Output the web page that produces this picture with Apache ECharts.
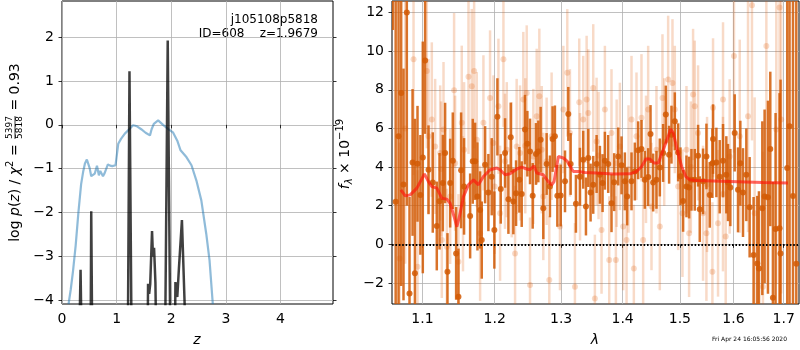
<!DOCTYPE html>
<html>
<head>
<meta charset="utf-8">
<title>redshift fit</title>
<script src="https://cdn.jsdelivr.net/npm/echarts@6.0.0/dist/echarts.min.js"></script>
<style>
  html, body { margin: 0; padding: 0; background: #fff; }
  #chart { width: 800px; height: 350px; }
</style>
</head>
<body>
<div id="chart"></div>
<script>
// ---- left panel: log p(z) and chi2 curve
var pzZ = [0.12,0.16,0.20,0.25,0.30,0.35,0.39,0.42,0.455,0.475,0.505,0.535,0.57,0.60,0.64,0.675,0.70,0.72,0.75,0.78,
  0.80,0.84,0.88,0.92,0.98,1.0,1.03,1.08,1.15,1.24,1.30,1.34,1.38,1.45,1.53,1.61,1.64,1.68,1.76,1.85,
  1.94,2.03,2.11,2.17,2.28,2.37,2.46,2.55,2.64,2.70,2.76];
var pzLog = [-4.08,-3.75,-3.35,-2.75,-2.0,-1.35,-1.05,-0.88,-0.79,-0.78,-0.98,-1.17,-1.15,-1.11,-0.93,-1.15,-1.05,-1.04,-1.17,-1.1,
  -1.12,-0.9,-0.93,-0.94,-0.92,-0.9,-0.43,-0.32,-0.2,-0.09,-0.01,-0.02,-0.04,-0.1,-0.18,-0.24,-0.1,0.02,0.10,0.0,
  -0.09,-0.17,-0.36,-0.58,-0.74,-0.92,-1.27,-1.72,-2.48,-3.08,-4.08];

var chiZ = [0.30,0.34,0.355,0.37, 0.52,0.535,0.545,0.56, 1.20,1.235,1.25,1.28,
  1.56,1.575,1.595,1.615,1.648,1.665,1.685,1.71,1.735, 1.88,1.935,1.955,1.99,
  2.06,2.076,2.11,2.14,2.17,2.195,2.215,2.245,2.26];
var chiVal = [-6,-3.3,-3.3,-6, -6,-1.97,-1.97,-6, -6,1.22,1.22,-6,
  -6,-3.62,-3.85,-3.62,-2.42,-3.0,-2.8,-3.6,-6, -6,1.92,1.92,-6,
  -6,-3.58,-3.92,-3.27,-3.24,-2.17,-2.14,-4.1,-6];

var zTicks = [0,1,2,3,4];
var pzTicks = [-4,-3,-2,-1,0,1,2];

// ---- right panel: spectrum [wavelength, flux, error]
var darkPoints = [
  [1.0614,14.0,2.9],[1.0650,2.2,12],[1.0687,5.6,10],[1.0721,7.84,10],[1.0751,3.1,6],[1.0794,12.0,10],
  [1.0829,-2.55,5],[1.0869,4.24,3.8],[1.0900,-1.5,8],[1.0934,4.17,3],[1.0972,2.56,3.1],[1.1004,4.5,6],
  [1.1035,9.52,3.8],[1.1080,3.86,2.3],[1.1137,3.2,2.6],[1.1191,0.95,2.3],[1.1228,2.23,2.5],[1.1273,3.17,2.5],
  [1.1304,4.73,2.6],[1.1336,-1.42,2.0],[1.1373,3.17,2.3],[1.1409,4.33,2.5],[1.1455,-0.47,2.4],[1.1487,-2.72,2.5],
  [1.1524,3.83,3.0],[1.1565,3.0,2.5],[1.1650,1.47,2.2],[1.1687,4.3,2.2],[1.1720,4.3,2.0],[1.1753,2.48,2.8],
  [1.1791,1.78,2.0],[1.1814,0.22,2.0],[1.1862,4.12,2.0],[1.1909,2.68,2.0],[1.1957,3.5,2.0],[1.1995,0.74,2.0],
  [1.2039,6.6,2.0],[1.2088,2.87,1.8],[1.2151,4.73,1.8],[1.2200,2.34,1.8],[1.2234,5.54,1.8],[1.2273,2.22,1.7],
  [1.2313,2.65,1.7],[1.2362,3.34,1.7],[1.2397,2.6,1.7],[1.2446,5.94,1.8],[1.2482,5.21,1.7],[1.2522,4.81,1.7],
  [1.2562,2.51,1.7],[1.2612,4.68,1.6],[1.2648,4.81,1.6],[1.2683,5.42,1.7],[1.2724,1.87,1.6],[1.2775,4.16,1.6],
  [1.2826,3.0,1.6],[1.2867,5.45,1.7],[1.2903,5.59,1.6],[1.2941,2.51,1.6],[1.2993,2.53,1.6],[1.3061,3.26,1.6],
  [1.3113,6.75,1.4],[1.3150,4.16,1.6],[1.3234,2.1,1.5],[1.3298,3.5,1.5],[1.3351,4.38,1.5],[1.3395,1.96,1.5],
  [1.3433,4.47,1.5],[1.3470,2.68,1.5],[1.3513,3.08,1.5],[1.3568,4.16,1.5],[1.3622,3.6,1.5],[1.3666,3.17,1.5],
  [1.3704,4.33,1.5],[1.3759,4.16,1.5],[1.3814,2.13,1.5],[1.3858,3.22,1.5],[1.3926,4.55,1.5],[1.3982,4.09,1.5],
  [1.4038,3.26,1.5],[1.4077,2.48,1.5],[1.4151,3.26,1.5],[1.4208,3.77,1.5],[1.4265,4.87,1.5],[1.4322,4.94,1.5],
  [1.4380,3.34,1.5],[1.4438,3.48,1.5],[1.4479,5.71,1.5],[1.4525,3.2,1.5],[1.4583,3.34,1.5],[1.4642,3.98,1.5],
  [1.4700,4.73,1.5],[1.4748,6.72,1.5],[1.4807,4.64,1.5],[1.4849,5.68,1.5],[1.4909,6.37,1.5],[1.4969,4.76,1.5],
  [1.5011,3.52,1.5],[1.5059,2.25,1.6],[1.5120,3.0,1.6],[1.5168,2.94,1.6],[1.5211,3.34,1.6],[1.5272,3.34,1.6],
  [1.5333,4.59,1.6],[1.5364,1.82,1.7],[1.5425,3.26,1.7],[1.5488,4.55,1.7],[1.5550,2.56,1.7],[1.5600,4.2,1.8],
  [1.5612,5.45,1.8],[1.5675,4.24,1.8],[1.5738,3.5,1.9],[1.5801,4.33,1.9],[1.5864,3.6,2.0],[1.5896,3.2,2.0],
  [1.5941,2.94,2.0],[1.6025,5.77,2.0],[1.6089,2.82,2.2],[1.6134,4.2,2.2],[1.6186,2.68,2.3],[1.6251,3.6,2.4],
  [1.6316,1.92,2.6],[1.6394,-0.55,3.0],[1.6467,-0.99,3.5],[1.6500,-1.25,4],[1.6567,1.87,4.5],[1.6613,2.48,4.5],
  [1.6680,2.44,5],[1.6727,4.94,4],[1.6780,-2.77,6],[1.6834,0.8,6],[1.6915,0.83,7],[1.6935,-0.47,9],
  [1.7072,3.95,12],[1.7120,6.11,12],[1.7191,2.5,13],[1.7260,-1.0,14]
];

var lightPoints = [
  [1.0700,-0.73,6],[1.0773,6.0,7],[1.0882,9.58,6],[1.0934,-1.16,5],[1.1057,8.97,4],[1.1080,5.6,4],
  [1.1124,6.46,4],[1.1169,5.07,3.5],[1.1237,4.73,3.5],[1.1250,3.9,3.5],[1.1259,0.22,3],[1.1282,5.94,3.5],
  [1.1327,-0.12,3],[1.1373,2.48,3.5],[1.1427,7.98,4],[1.1441,4.2,3.5],[1.1487,-0.9,3.5],[1.1533,6.29,4],
  [1.1550,2.1,3.5],[1.1565,4.9,3.5],[1.1627,8.68,4],[1.1673,8.19,4],[1.1706,8.97,4],[1.1743,5.42,3.5],
  [1.1791,0.57,3.5],[1.1838,6.29,3.5],[1.1933,7.58,3.5],[1.1981,5.25,3.5],[1.2000,3.0,3.5],[1.2054,7.15,3.5],
  [1.2078,1.61,3.5],[1.2127,9.58,3.5],[1.2150,4.3,3.5],[1.2176,4.9,3.5],[1.2249,3.86,3.5],[1.2298,-0.47,3.5],
  [1.2322,5.07,3.5],[1.2372,4.73,3.5],[1.2421,7.5,3.5],[1.2450,5.1,3.5],[1.2472,7.84,3.5],[1.2522,-2.11,3.5],
  [1.2572,4.55,3.5],[1.2623,6.63,3.5],[1.2663,7.67,3.5],[1.2700,4.9,3.3],[1.2724,2.48,3.3],[1.2775,4.3,3.3],
  [1.2816,-1.85,3.3],[1.2852,5.6,3.3],[1.2982,0.92,3.3],[1.3035,6.98,3.3],[1.3097,8.88,3.3],[1.3139,5.77,3.3],
  [1.3218,-2.2,3.3],[1.3287,7.36,3.3],[1.3300,3.5,3.3],[1.3351,6.46,3.3],[1.3406,7.5,3.3],[1.3433,6.8,3.3],
  [1.3513,8.1,3.3],[1.3540,-2.8,3.3],[1.3568,5.33,3.3],[1.3600,4.6,3.3],[1.3649,0.74,3.3],[1.3704,6.98,3.3],
  [1.3776,-0.81,3.3],[1.3814,5.77,3.3],[1.3887,-0.81,3.3],[1.3900,4.2,3.3],[1.3954,5.07,3.3],[1.4010,0.92,3.3],
  [1.4067,0.22,3.3],[1.4100,3.9,3.3],[1.4151,6.46,3.3],[1.4191,-1.25,3.3],[1.4236,5.6,3.3],[1.4322,6.55,3.3],
  [1.4351,0.22,3.3],[1.4400,4.4,3.3],[1.4438,6.98,3.3],[1.4496,1.96,3.3],[1.4583,4.9,3.3],[1.4642,0.92,3.3],
  [1.4689,7.58,3.3],[1.4720,5.3,3.3],[1.4790,8.54,3.3],[1.4867,8.36,3.3],[1.4909,6.98,3.3],[1.4969,3.0,3.3],
  [1.5047,1.61,3.3],[1.5120,4.9,3.3],[1.5168,0.57,3.3],[1.5200,4.0,3.4],[1.5241,7.76,3.4],[1.5272,7.15,3.4],
  [1.5333,5.77,3.5],[1.5425,1.61,3.5],[1.5488,0.57,3.5],[1.5500,3.1,3.5],[1.5600,-1.42,3.6],[1.5612,7.07,3.6],
  [1.5706,1.09,3.8],[1.5800,2.6,4],[1.5801,7.5,4],[1.5852,0.4,4],[1.5928,4.55,4],[1.6011,9.75,5],
  [1.6122,5.6,5],[1.6284,6.63,6],[1.6362,12.38,7],[1.6415,1.61,6],[1.6580,-2.2,7],[1.6648,10.27,8],
  [1.6849,5.94,8],[1.6915,12.26,9],[1.6949,6.46,9]
];

var modelWave = [1.0717,1.0774,1.0838,1.0926,1.1026,1.1079,1.1125,1.1192,1.1259,1.1328,1.1372,1.1427,1.1465,1.1500,
  1.1556,1.1626,1.1697,1.1767,1.1838,1.1934,1.2030,1.2078,1.2151,1.2224,1.2323,1.2397,1.2472,1.2522,1.2582,1.2624,
  1.2724,1.2801,1.2853,1.2890,1.2957,1.3035,1.3098,1.3192,1.3272,1.3379,1.3569,1.3842,1.4124,1.4239,1.4325,1.4400,
  1.4469,1.4539,1.4615,1.4703,1.4791,1.4834,1.4881,1.4952,1.5032,1.5109,1.5182,1.5305,1.5929,1.6580,1.7087];
var modelFlux = [2.82,2.51,2.56,2.91,3.65,3.25,2.99,2.91,2.39,2.34,2.13,1.43,0.91,1.43,
  2.47,3.08,3.34,3.08,3.51,3.86,3.95,3.86,3.6,3.65,3.9,4.0,3.9,3.86,4.07,3.69,
  3.6,3.25,3.08,3.25,4.55,4.47,4.29,3.77,3.77,3.72,3.69,3.64,3.65,3.77,4.03,4.42,
  4.42,4.21,4.21,4.9,5.59,5.97,5.77,4.9,4.03,3.51,3.34,3.3,3.25,3.2,3.17];

var lamTicks = [1.1,1.2,1.3,1.4,1.5,1.6,1.7];
var fluxTicks = [-2,0,2,4,6,8,10,12];

var FONT = 'DejaVu Sans';

function minus(v){ return String(v).replace('-', '\u2212'); }

function axisStyle(ticks, fmt){
  return {
    axisLine: { show: false },
    axisTick: { show: true, inside: false, length: 3.5, customValues: ticks, lineStyle: { color: '#000', width: 0.8 } },
    axisLabel: { show: true, customValues: ticks, color: '#000', fontFamily: FONT, fontSize: 14, margin: 8,
                 formatter: fmt || minus },
    splitLine: { show: true, lineStyle: { color: '#b0b0b0', width: 0.8 } }
  };
}

// error bar + dot, clipped to the plot box
function errRender(color, r, w){
  return function(params, api){
    var x = api.value(0), y = api.value(1), e = api.value(2);
    var top = api.coord([x, y + e]);
    var bot = api.coord([x, y - e]);
    var c = api.coord([x, y]);
    var cs = params.coordSys;
    var bar = echarts.graphic.clipRectByRect(
      { x: top[0] - w / 2, y: top[1], width: w, height: bot[1] - top[1] },
      { x: cs.x, y: cs.y, width: cs.width, height: cs.height });
    var kids = [];
    if (bar) kids.push({ type: 'rect', shape: bar, style: { fill: color } });
    if (c[1] >= cs.y && c[1] <= cs.y + cs.height) {
      kids.push({ type: 'circle', shape: { cx: c[0], cy: c[1], r: r }, style: { fill: color } });
    }
    return { type: 'group', children: kids };
  };
}

// rotated (bottom-to-top) label built from pieces
var mctx = document.createElement('canvas').getContext('2d');
function textW(s, font){ mctx.font = font; return mctx.measureText(s).width; }
function vLabel(cx, cy, segs){
  var total = 0;
  segs.forEach(function(s){
    s.font = (s.italic ? 'italic ' : '') + s.size + 'px "' + FONT + '"';
    s.w = s.frac ? Math.max(textW(s.num, s.font), textW(s.den, s.font)) + 2 : textW(s.t, s.font);
    total += s.w;
  });
  var y = cy + total / 2, out = [];
  segs.forEach(function(s){
    if (s.frac) {
      var mid = y - s.w / 2;
      out.push({ type: 'text', x: cx - 5, y: mid, rotation: Math.PI / 2,
        style: { text: s.num, font: s.font, fill: '#000', align: 'center', verticalAlign: 'middle' } });
      out.push({ type: 'text', x: cx + 5, y: mid, rotation: Math.PI / 2,
        style: { text: s.den, font: s.font, fill: '#000', align: 'center', verticalAlign: 'middle' } });
      out.push({ type: 'line', shape: { x1: cx, y1: y - 1, x2: cx, y2: y - s.w + 1 },
        style: { stroke: '#000', lineWidth: 0.8 } });
    } else {
      out.push({ type: 'text', x: cx + (s.dx || 0), y: y, rotation: Math.PI / 2,
        style: { text: s.t, font: s.font, fill: '#000', align: 'left', verticalAlign: 'middle' } });
    }
    y -= s.w;
  });
  return out;
}

var chart = echarts.init(document.getElementById('chart'));

var pzData = pzZ.map(function(z, i){ return [z, pzLog[i]]; });
var chiData = chiZ.map(function(z, i){ return [z, chiVal[i]]; });
var darkData = darkPoints.map(function(p){ return [Math.log(p[0]), p[1], p[2]]; });
var lightData = lightPoints.map(function(p){ return [Math.log(p[0]), p[1], p[2]]; });
var modelData = modelWave.map(function(l, i){ return [Math.log(l), modelFlux[i]]; });

var leftLabel = vLabel(15, 152.5, [
  { t: 'log ', size: 14 }, { t: 'p', size: 14, italic: true }, { t: '(', size: 14 },
  { t: 'z', size: 14, italic: true }, { t: ') / ', size: 14 }, { t: 'χ', size: 14, italic: true },
  { t: '2', size: 10, dx: -5 }, { t: ' = ', size: 14 },
  { frac: true, num: '5397', den: '5818', size: 9 },
  { t: ' = 0.93', size: 14 }
]);
var rightLabel = vLabel(345, 154, [
  { t: 'f', size: 14, italic: true }, { t: 'λ', size: 10, italic: true, dx: 4 },
  { t: ' × 10', size: 14 }, { t: '\u221219', size: 10, dx: -5 }
]);

var option = {
  animation: false,
  backgroundColor: '#fff',
  grid: [
    { left: 62, top: 1, width: 271, height: 303, show: true, borderColor: '#000', borderWidth: 1 },
    { left: 392, top: 1, width: 407, height: 303, show: true, borderColor: '#000', borderWidth: 1 }
  ],
  xAxis: [
    Object.assign({ gridIndex: 0, type: 'value', min: 0, max: 4.96 }, axisStyle(zTicks)),
    Object.assign({ gridIndex: 1, type: 'value', min: Math.log(1.0603), max: Math.log(1.7316) },
      axisStyle(lamTicks.map(Math.log), function(v){ return Math.exp(v).toFixed(1); }))
  ],
  yAxis: [
    Object.assign({ gridIndex: 0, type: 'value', min: -4.08, max: 2.82 }, axisStyle(pzTicks)),
    { gridIndex: 0, type: 'value', position: 'right', min: -4.08, max: 2.82,
      axisLine: { show: false }, splitLine: { show: false }, axisLabel: { show: false },
      axisTick: { show: true, inside: false, length: 3.5, customValues: pzTicks, lineStyle: { color: '#000', width: 0.8 } } },
    Object.assign({ gridIndex: 1, type: 'value', min: -3.09, max: 12.6 }, axisStyle(fluxTicks))
  ],
  series: [
    { type: 'line', xAxisIndex: 0, yAxisIndex: 0, data: pzData, showSymbol: false, clip: true,
      lineStyle: { color: 'rgba(31,119,180,0.5)', width: 2.2 } },
    { type: 'line', xAxisIndex: 0, yAxisIndex: 0, data: chiData, showSymbol: false, clip: true,
      lineStyle: { color: 'rgba(0,0,0,0.75)', width: 2.5 } },
    { type: 'custom', xAxisIndex: 1, yAxisIndex: 2, data: lightData, encode: { x: 0, y: 1 },
      renderItem: errRender('rgba(222,88,0,0.22)', 3, 2.5) },
    { type: 'custom', xAxisIndex: 1, yAxisIndex: 2, data: darkData, encode: { x: 0, y: 1 },
      renderItem: errRender('rgba(210,90,5,0.85)', 3, 2.5) },
    { type: 'line', xAxisIndex: 1, yAxisIndex: 2, data: modelData, showSymbol: false, clip: true,
      lineStyle: { color: 'rgba(255,20,10,0.65)', width: 3 },
      markLine: { silent: true, symbol: 'none', label: { show: false },
        lineStyle: { color: '#000', type: [1.6, 1.8], width: 2 }, data: [{ yAxis: 0 }] } }
  ],
  graphic: [
    { type: 'text', x: 318, y: 20, style: { text: 'j105108p5818', font: '12px "' + FONT + '"', fill: '#000', align: 'right', verticalAlign: 'middle' } },
    { type: 'text', x: 318, y: 34, style: { text: 'ID=608    z=1.9679', font: '12px "' + FONT + '"', fill: '#000', align: 'right', verticalAlign: 'middle' } },
    { type: 'text', x: 197, y: 340, style: { text: 'z', font: 'italic 14px "' + FONT + '"', fill: '#000', align: 'center', verticalAlign: 'middle' } },
    { type: 'text', x: 595, y: 340, style: { text: 'λ', font: 'italic 14px "' + FONT + '"', fill: '#000', align: 'center', verticalAlign: 'middle' } },
    { type: 'text', x: 787, y: 339, style: { text: 'Fri Apr 24 16:05:56 2020', font: '6px "' + FONT + '"', fill: '#000', align: 'right', verticalAlign: 'middle' } }
  ].concat(leftLabel, rightLabel)
};

chart.setOption(option);
</script>
</body>
</html>
